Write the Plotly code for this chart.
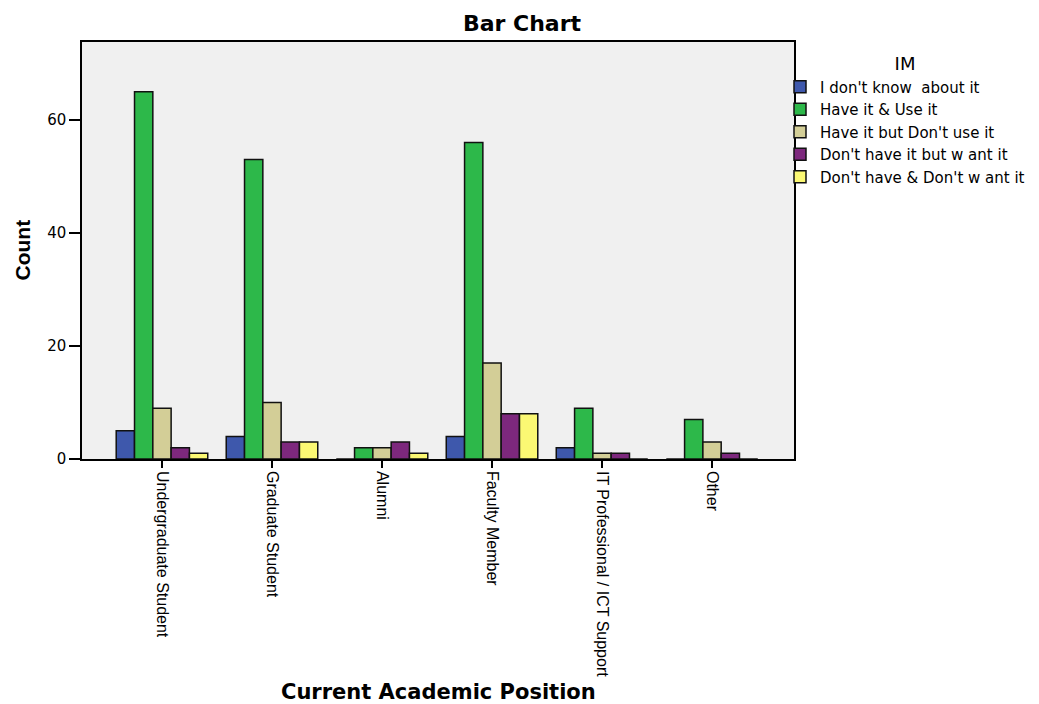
import plotly.graph_objects as go

categories = ["Undergraduate Student", "Graduate Student", "Alumni",
              "Faculty Member", "IT Professional / ICT Support", "Other"]
series_names = ["I don't know  about it", "Have it & Use it",
                "Have it but Don't use it", "Don't have it but w ant it",
                "Don't have & Don't w ant it"]
dont_know = [5, 4, 0, 4, 2, 0]
have_use = [65, 53, 2, 56, 9, 7]
have_not_use = [9, 10, 2, 17, 1, 3]
not_have_want = [2, 3, 3, 8, 1, 1]
not_have_not_want = [1, 3, 1, 8, 0, 0]
series_values = [dont_know, have_use, have_not_use, not_have_want, not_have_not_want]
colors = ["#3E58AC", "#2DB84A", "#D3CE97", "#7D287D", "#FBF873"]
y_ticks = [0, 20, 40, 60]

NARROW = "Liberation Sans, Arial, sans-serif"
WIDE = "DejaVu Sans, Verdana, sans-serif"

# page offset compensation (body margin)
OFF = 8
W, H = 1039 - OFF, 704 - OFF
L, T = 82 - OFF, 42 - OFF
PW, PH = 712, 417

fig = go.Figure()
for name, vals, col in zip(series_names, series_values, colors):
    fig.add_trace(go.Bar(
        x=categories, y=vals, name=name,
        marker=dict(color=col, line=dict(color="#111111", width=1.5)),
    ))

fig.update_layout(
    width=W, height=H,
    margin=dict(l=L, r=W - L - PW, t=T, b=H - T - PH, autoexpand=False),
    paper_bgcolor="white", plot_bgcolor="#F0F0F0",
    barmode="group", bargap=0.168, bargroupgap=0,
    font=dict(family=WIDE, color="black", size=14),
    title=dict(text="<b>Bar Chart</b>", x=(522 - OFF) / W, xref="container", xanchor="center",
               y=1 - (23 - OFF) / H, yref="container", yanchor="middle",
               font=dict(size=22, family=WIDE, color="black")),
    legend=dict(x=(780 - 82) / PW, xanchor="left", y=(459 - 47) / PH, yanchor="top",
                title=dict(text="IM", side="top center", font=dict(size=18, family=WIDE)),
                font=dict(size=15, family=WIDE), tracegroupgap=0,
                itemwidth=30, bgcolor="rgba(0,0,0,0)"),
    showlegend=True,
)
fig.update_xaxes(
    type="category", range=[-0.727, 5.745], tickangle=90,
    ticks="outside", ticklen=7, tickwidth=1.5, tickcolor="black",
    showline=True, linecolor="black", linewidth=1.5, mirror=True,
    showgrid=False, tickfont=dict(size=16, family=NARROW),
)
fig.update_yaxes(
    range=[0, 73.8], tickvals=y_ticks,
    ticks="outside", ticklen=11, tickwidth=1.5, tickcolor="black",
    showline=True, linecolor="black", linewidth=1.5, mirror=True,
    showgrid=False, zeroline=False, tickfont=dict(size=15, family=WIDE),
)
fig.add_annotation(text="<b>Current Academic Position</b>", xref="paper", yref="paper",
                   x=0.5, y=-(692 - 459) / PH, xanchor="center", yanchor="middle",
                   showarrow=False, font=dict(size=21, family=WIDE))
fig.add_annotation(text="<b>Count</b>", xref="paper", yref="paper",
                   x=-(82 - 22) / PW, y=0.5, xanchor="center", yanchor="middle",
                   textangle=-90, showarrow=False, font=dict(size=21, family=NARROW))

fig.write_html("out.html")
